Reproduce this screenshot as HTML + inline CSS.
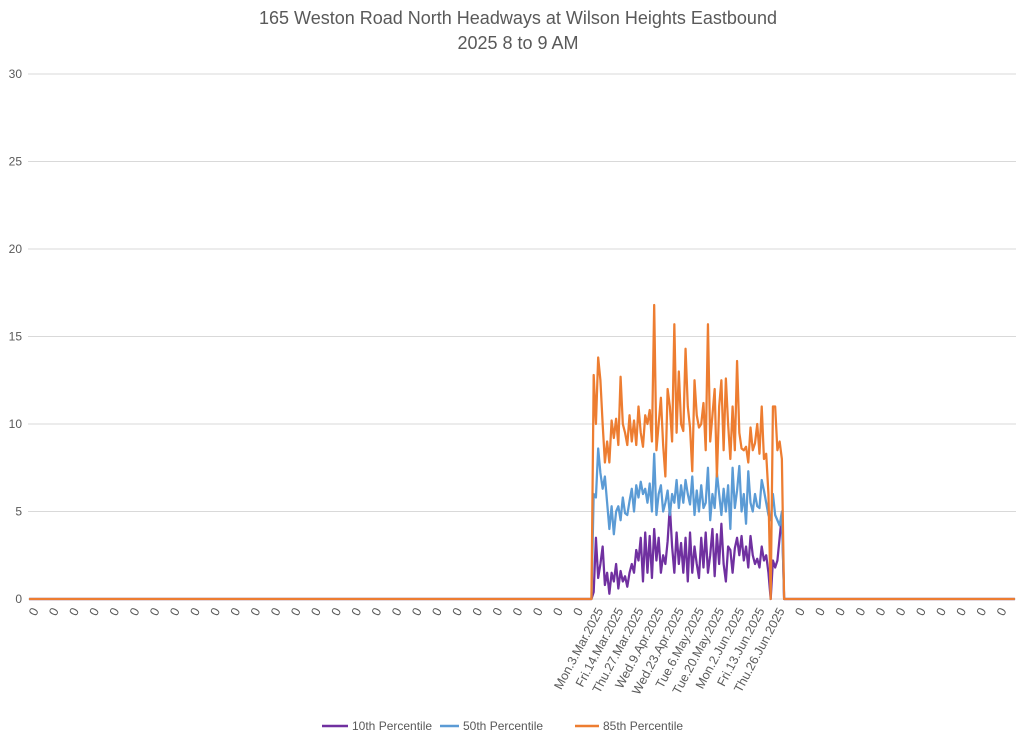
<!DOCTYPE html>
<html><head><meta charset="utf-8"><style>
body{margin:0;background:#fff;font-family:"Liberation Sans",sans-serif}
</style></head><body>
<svg id="chart" width="1024" height="738" xmlns="http://www.w3.org/2000/svg">
<text x="518" y="24" text-anchor="middle" font-size="18" fill="#595959">165 Weston Road North Headways at Wilson Heights Eastbound</text>
<text x="518" y="49" text-anchor="middle" font-size="18" fill="#595959">2025 8 to 9 AM</text>
<g id="grid"></g>
<g id="xlabels"></g>
<g id="series"></g>
<g font-size="12" fill="#595959">
<g><line x1="322" y1="726" x2="348" y2="726" stroke="#7030A0" stroke-width="2.5"/><text x="352" y="730">10th Percentile</text></g>
<g><line x1="440" y1="726" x2="459" y2="726" stroke="#5B9BD5" stroke-width="2.5"/><text x="463" y="730">50th Percentile</text></g>
<g><line x1="575" y1="726" x2="599" y2="726" stroke="#ED7D31" stroke-width="2.5"/><text x="603" y="730">85th Percentile</text></g>
</g>
</svg>
<script>
const yTicks=[0,5,10,15,20,25,30];
const leadingZeros=252;
const trailingZeros=103;
const dateLabels=["Mon.3.Mar.2025","Fri.14.Mar.2025","Thu.27.Mar.2025","Wed.9.Apr.2025","Wed.23.Apr.2025","Tue.6.May.2025","Tue.20.May.2025","Mon.2.Jun.2025","Fri.13.Jun.2025","Thu.26.Jun.2025"];
const p85=[12.8,10,13.8,12.5,10,7.8,9,7.8,10.2,9.2,10.3,8.8,12.7,10,9.5,8.8,10.5,9,10.2,8.8,11,9.5,8.7,10.5,10,10.8,9,16.8,8.5,10,11.5,8.8,7,12,11,9,15.7,9.5,13,10,9.6,14.3,11,9.8,7.3,12.5,10.5,9.8,10,11.2,8.5,15.7,9,10.5,12,7,11,12.5,8.5,12.6,10,8,11,8.5,13.6,9.5,8.6,8.5,8.7,7.8,9.8,8.5,8.9,10,8.3,11,8,8.3,6,0,11,11,8.5,9,8,0];
const p50=[6,5.8,8.6,7.2,6.3,7,5.5,4,5.3,3.7,5,5.3,4.5,5.8,4.9,4.8,5.6,6.3,5,6.5,5.8,6.7,6,6.3,5.5,6.6,5,8.3,4.8,6,6.5,5,5.5,6.2,4.8,6,5.5,6.8,5.2,6.5,5.5,6.8,6,5.4,7,4.8,6.2,5,6.5,5.2,5.5,7.5,4.5,6,5.2,7.2,6,4.8,6.3,5,6.5,4,7.5,5.2,6.2,7.6,5,6,4.3,7.3,5.5,5,6,5.3,5.2,6.8,6.2,5.5,4.8,4.5,6,4.8,4.5,4.2,5,0];
const p10=[0.4,3.5,1.2,2,3,0.8,1.5,0.3,1.5,1,2,0.6,1.6,1,1.3,0.7,1.5,2,1.5,2.8,2.2,3.5,1,3.8,1.5,3.6,1.2,4,2.2,3.5,1.5,2.5,2,3.3,5.3,3,1.5,3.8,2,3.2,1.5,3.5,1,3.8,1.5,3,2,1.2,3.5,1.8,3.8,1.5,2.5,4,1.3,3.7,2,4.3,2,1,3,2.8,1.5,2.9,3.5,2.5,3.6,2.2,3,1.8,3.6,2.5,2,2.3,1.8,3,2.2,2.5,1.5,0,2.2,1.8,2.2,3.5,4.8,0];
const NS="http://www.w3.org/2000/svg";
const plotL=28,plotR=1016,plotT=74,plotB=599,yMax=30;
const N=leadingZeros+p85.length+trailingZeros;
const step=(plotR-plotL)/N;
const xs=i=>plotL+(i+0.5)*step;
const ys=v=>plotB-(v/yMax)*(plotB-plotT);
function full(arr){const o=[];for(let i=0;i<leadingZeros;i++)o.push(0);arr.forEach(v=>o.push(v));for(let i=0;i<trailingZeros;i++)o.push(0);return o;}
const grid=document.getElementById('grid');
yTicks.forEach(t=>{
  const l=document.createElementNS(NS,'line');
  
  
  l.setAttribute('x1',plotL);l.setAttribute('x2',plotR);l.setAttribute('y1',ys(t));l.setAttribute('y2',ys(t));
  l.setAttribute('stroke','#d9d9d9');l.setAttribute('stroke-width','1');
  grid.appendChild(l);
  const tx=document.createElementNS(NS,'text');
  
  
  tx.setAttribute('x',22);tx.setAttribute('y',ys(t)+4);tx.setAttribute('text-anchor','end');
  tx.setAttribute('font-size','12');tx.setAttribute('fill','#595959');tx.textContent=t;
  grid.appendChild(tx);
});
const xl=document.getElementById('xlabels');
for(let i=0;i<N;i+=9){
  let lab="0";
  const j=i-leadingZeros;
  if(j>=0&&j<p85.length)lab=dateLabels[j/9];
  const x=xs(i)+7,y=609;
  const tx=document.createElementNS(NS,'text');
  
  
  tx.setAttribute('x',x);tx.setAttribute('y',y);tx.setAttribute('text-anchor','end');
  tx.setAttribute('font-size','12.5');tx.setAttribute('fill','#595959');
  tx.setAttribute('transform','rotate(-62 '+x+' '+y+')');
  tx.setAttribute('dominant-baseline','middle');
  tx.textContent=lab;
  xl.appendChild(tx);
}
const sg=document.getElementById('series');
[[p10,'#7030A0','line-10th-percentile'],[p50,'#5B9BD5','line-50th-percentile'],[p85,'#ED7D31','line-85th-percentile']].forEach(([arr,c,n])=>{
  const d=full(arr).map((v,i)=>(i?'L':'M')+xs(i).toFixed(2)+' '+ys(v).toFixed(2)).join(' ');
  const p=document.createElementNS(NS,'path');
  
  
  p.setAttribute('d',d);p.setAttribute('fill','none');p.setAttribute('stroke',c);
  p.setAttribute('stroke-width','2.25');p.setAttribute('stroke-linejoin','round');
  sg.appendChild(p);
});
</script>
</body></html>
